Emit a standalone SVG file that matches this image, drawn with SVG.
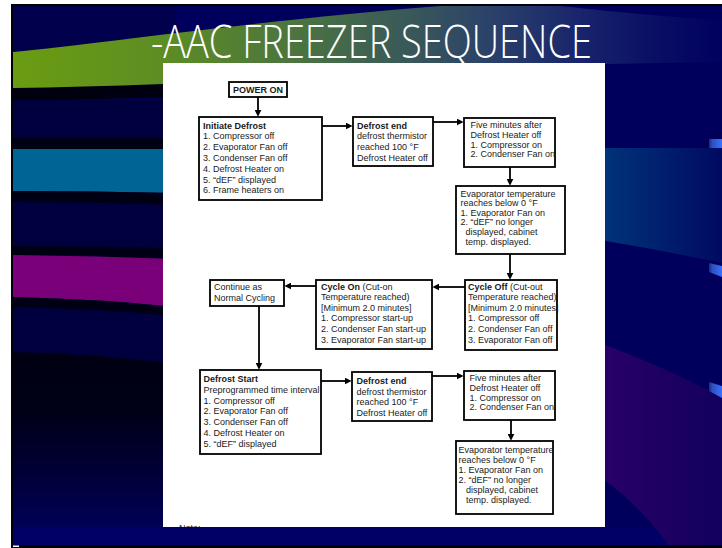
<svg xmlns="http://www.w3.org/2000/svg" width="722" height="548" viewBox="0 0 722 548">
<style>
.box{fill:#fff;stroke:#000;stroke-width:1.8}
.t{font-family:"Liberation Sans",Arial,Helvetica,sans-serif;font-size:9px;fill:#1a1a1a}
.b{font-weight:bold}
.conn line{stroke:#000;stroke-width:1.8;fill:none;marker-end:url(#ah)}
.title{font-family:"Open Sans","Lato","Liberation Sans",sans-serif;font-weight:300;font-size:46px;fill:#fff}
</style>
<defs>
<marker id="ah" viewBox="0 0 8 8" refX="5" refY="4" markerWidth="7" markerHeight="7" markerUnits="userSpaceOnUse" orient="auto"><path d="M0,0 L8,4 L0,8 Z" fill="#000"/></marker>
<linearGradient id="gSwoosh" gradientUnits="userSpaceOnUse" x1="13" y1="0" x2="722" y2="0">
<stop offset="0" stop-color="#6a9c12"/><stop offset="0.2" stop-color="#5e8e22"/><stop offset="0.4" stop-color="#4b7440"/><stop offset="0.55" stop-color="#3a5a58"/><stop offset="0.68" stop-color="#2a406a"/><stop offset="0.8" stop-color="#18246c"/><stop offset="0.9" stop-color="#0a1064"/><stop offset="1" stop-color="#000060"/>
</linearGradient>
<linearGradient id="gLow" gradientUnits="userSpaceOnUse" x1="0" y1="352" x2="0" y2="527">
<stop offset="0" stop-color="#000012"/><stop offset="0.35" stop-color="#000018"/><stop offset="1" stop-color="#000055"/>
</linearGradient>
<linearGradient id="gTealR" gradientUnits="userSpaceOnUse" x1="600" y1="0" x2="722" y2="0">
<stop offset="0" stop-color="#00357a"/><stop offset="1" stop-color="#000a62"/>
</linearGradient>
<linearGradient id="gPurR" gradientUnits="userSpaceOnUse" x1="600" y1="0" x2="722" y2="0">
<stop offset="0" stop-color="#2a0068"/><stop offset="1" stop-color="#12005e"/>
</linearGradient>
<linearGradient id="gMark" gradientUnits="userSpaceOnUse" x1="708" y1="0" x2="722" y2="0">
<stop offset="0" stop-color="#18204a"/><stop offset="0.3" stop-color="#2a50c0"/><stop offset="1" stop-color="#3a70ff"/>
</linearGradient>
<clipPath id="panelClip"><rect x="163" y="63" width="442" height="464"/></clipPath>
</defs>

<g id="background">
<rect x="0" y="0" width="722" height="548" fill="#fff"/>
<rect x="11" y="4" width="711" height="544" fill="#000008"/>
<rect x="13" y="6" width="709" height="539" fill="#00005c"/>
<rect x="13" y="6" width="162" height="94" fill="#00004c"/>
<polygon points="13,86 175,82 175,97 13,101" fill="#000010"/>
<rect x="13" y="100" width="162" height="262" fill="#00003e"/>
<rect x="13" y="138" width="162" height="11" fill="#000014"/>
<path d="M13,149 L175,149 L175,193 Q90,191 13,191 Z" fill="#006494"/>
<path d="M13,191 Q90,191 175,193 L175,205 Q90,202 13,202 Z" fill="#000014"/>
<path d="M13,246 Q100,246 175,248 L175,259 Q100,256 13,255 Z" fill="#000014"/>
<path d="M13,255 Q100,256 175,259 L175,307 Q100,299 13,297 Z" fill="#790079"/>
<path d="M13,297 Q100,299 175,307 L175,316 Q100,309 13,307 Z" fill="#000014"/>
<path d="M13,352 Q100,354 175,364 L175,527 L13,527 Z" fill="url(#gLow)"/>
<rect x="13" y="527" width="709" height="18" fill="#000066"/>
<path d="M600,148 L722,148 L722,263 Q660,250 600,240 Z" fill="url(#gTealR)"/>
<path d="M600,343 Q660,365 722,397 L722,545 L668,545 Q640,505 600,477 Z" fill="url(#gPurR)"/>
<polygon points="709,139 722,139 722,148 709,148" fill="url(#gMark)"/>
<polygon points="709,263 722,266 722,277 709,272" fill="url(#gMark)"/>
<polygon points="709,382 722,386 722,398 709,391" fill="url(#gMark)"/>
<path d="M13,52 C100,44 260,20 440,6 L560,6 C600,10 650,16 722,20 L722,62 L605,64 L163,84 Q80,87 13,88 Z" fill="url(#gSwoosh)"/>
<rect x="13" y="545.5" width="6" height="1.5" fill="#fff"/>
<rect x="163" y="63" width="442" height="464" fill="#fff"/>
<text x="179" y="531" class="t" fill="#555" clip-path="url(#panelClip)">Note:</text>
<text class="title" x="151" y="58" textLength="441" lengthAdjust="spacingAndGlyphs">-AAC FREEZER SEQUENCE</text>
</g>

<g id="connectors" class="conn">
<line x1="258" y1="97" x2="258" y2="114"/>
<line x1="322" y1="126" x2="350" y2="126"/>
<line x1="433" y1="122" x2="461" y2="122"/>
<line x1="510" y1="167" x2="510" y2="183"/>
<line x1="510" y1="254" x2="510" y2="277"/>
<line x1="465" y1="287" x2="435" y2="287"/>
<line x1="316" y1="286" x2="287" y2="286"/>
<line x1="259" y1="306" x2="259" y2="367"/>
<line x1="321" y1="381" x2="349" y2="381"/>
<line x1="432" y1="376" x2="461" y2="376"/>
<line x1="511" y1="420" x2="511" y2="438"/>
</g>

<g id="power-on">
<rect class="box" x="229" y="82" width="58" height="15"/>
<text class="t b" x="258" y="92.8" text-anchor="middle">POWER ON</text>
</g>

<g id="initiate-defrost">
<rect class="box" x="199" y="117" width="123" height="83"/>
<text class="t b" x="203" y="128.5">Initiate Defrost</text>
<text class="t" x="203" y="139.3">1. Compressor off</text>
<text class="t" x="203" y="150.1">2. Evaporator Fan off</text>
<text class="t" x="203" y="160.9">3. Condenser Fan off</text>
<text class="t" x="203" y="171.7">4. Defrost Heater on</text>
<text class="t" x="203" y="182.5">5. “dEF” displayed</text>
<text class="t" x="203" y="193.3">6. Frame heaters on</text>
</g>

<g id="defrost-end-1">
<rect class="box" x="353" y="117" width="80" height="49"/>
<text class="t b" x="357" y="128.5">Defrost end</text>
<text class="t" x="357" y="139.3">defrost thermistor</text>
<text class="t" x="357" y="150.1">reached 100 °F</text>
<text class="t" x="357" y="160.9">Defrost Heater off</text>
</g>

<g id="five-minutes-1">
<rect class="box" x="464" y="118" width="91" height="49"/>
<text class="t" x="470.5" y="128">Five minutes after</text>
<text class="t" x="470.5" y="137.8">Defrost Heater off</text>
<text class="t" x="470.5" y="147.6">1. Compressor on</text>
<text class="t" x="470.5" y="157.4">2. Condenser Fan on</text>
</g>

<g id="evaporator-1">
<rect class="box" x="456" y="186" width="109" height="68"/>
<text class="t" x="460.5" y="196.5">Evaporator temperature</text>
<text class="t" x="460.5" y="206.1">reaches below 0 °F</text>
<text class="t" x="460.5" y="215.7">1. Evaporator Fan on</text>
<text class="t" x="460.5" y="225.3">2. “dEF” no longer</text>
<text class="t" x="465.5" y="234.9">displayed, cabinet</text>
<text class="t" x="465.5" y="244.5">temp. displayed.</text>
</g>

<g id="cycle-off">
<rect class="box" x="465" y="280" width="92" height="70"/>
<text class="t" x="468" y="289.5"><tspan class="b">Cycle Off</tspan> (Cut-out</text>
<text class="t" x="468" y="300.1">Temperature reached)</text>
<text class="t" x="468" y="310.7">[Minimum 2.0 minutes]</text>
<text class="t" x="468" y="321.3">1. Compressor off</text>
<text class="t" x="468" y="331.9">2. Condenser Fan off</text>
<text class="t" x="468" y="342.5">3. Evaporator Fan off</text>
</g>

<g id="cycle-on">
<rect class="box" x="316" y="280" width="116" height="69"/>
<text class="t" x="321" y="289.5"><tspan class="b">Cycle On</tspan> (Cut-on</text>
<text class="t" x="321" y="300.1">Temperature reached)</text>
<text class="t" x="321" y="310.7">[Minimum 2.0 minutes]</text>
<text class="t" x="321" y="321.3">1. Compressor start-up</text>
<text class="t" x="321" y="331.9">2. Condenser Fan start-up</text>
<text class="t" x="321" y="342.5">3. Evaporator Fan start-up</text>
</g>

<g id="continue">
<rect class="box" x="210" y="280" width="74" height="26"/>
<text class="t" x="214" y="290">Continue as</text>
<text class="t" x="214" y="300.5">Normal Cycling</text>
</g>

<g id="defrost-start">
<rect class="box" x="200" y="370" width="121" height="84"/>
<text class="t b" x="203.5" y="382">Defrost Start</text>
<text class="t" x="203.5" y="392.8">Preprogrammed time interval</text>
<text class="t" x="203.5" y="403.6">1. Compressor off</text>
<text class="t" x="203.5" y="414.4">2. Evaporator Fan off</text>
<text class="t" x="203.5" y="425.2">3. Condenser Fan off</text>
<text class="t" x="203.5" y="436">4. Defrost Heater on</text>
<text class="t" x="203.5" y="446.8">5. “dEF” displayed</text>
</g>

<g id="defrost-end-2">
<rect class="box" x="352" y="372" width="80" height="49"/>
<text class="t b" x="356.5" y="384">Defrost end</text>
<text class="t" x="356.5" y="394.6">defrost thermistor</text>
<text class="t" x="356.5" y="405.2">reached 100 °F</text>
<text class="t" x="356.5" y="415.8">Defrost Heater off</text>
</g>

<g id="five-minutes-2">
<rect class="box" x="464" y="371" width="91" height="49"/>
<text class="t" x="469.5" y="380.7">Five minutes after</text>
<text class="t" x="469.5" y="390.6">Defrost Heater off</text>
<text class="t" x="469.5" y="400.5">1. Compressor on</text>
<text class="t" x="469.5" y="410.4">2. Condenser Fan on</text>
</g>

<g id="evaporator-2">
<rect class="box" x="456" y="441" width="97" height="73"/>
<text class="t" x="458.5" y="453.3">Evaporator temperature</text>
<text class="t" x="458.5" y="463.2">reaches below 0 °F</text>
<text class="t" x="458.5" y="473.1">1. Evaporator Fan on</text>
<text class="t" x="458.5" y="483">2. “dEF” no longer</text>
<text class="t" x="466" y="492.9">displayed, cabinet</text>
<text class="t" x="466" y="502.8">temp. displayed.</text>
</g>
</svg>
